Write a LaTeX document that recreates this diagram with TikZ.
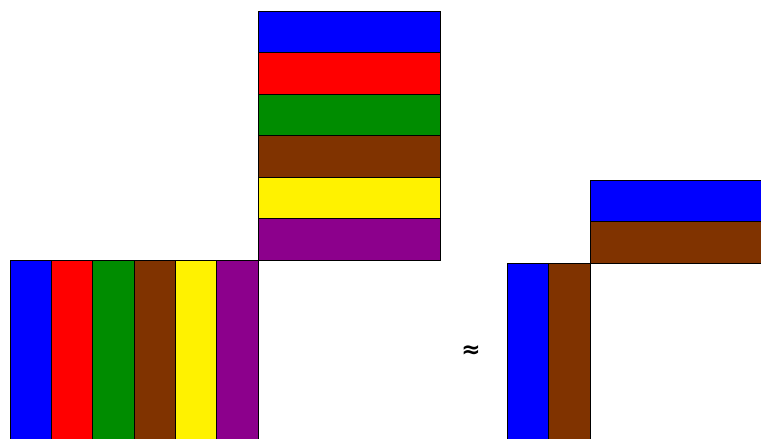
\documentclass[tikz,border=0pt]{standalone}
\usepackage{fontspec}
\newfontfamily\symfont{DejaVu Sans}
\newcommand{\approxfont}{\symfont\bfseries\fontsize{23}{25}\selectfont}
\usepackage{tikz}
\usetikzlibrary{positioning}
\definecolor{cgreen}{RGB}{0,140,0}
\definecolor{cbrown}{RGB}{128,51,0}
\definecolor{cpurple}{RGB}{140,0,140}

\begin{document}
\begin{tikzpicture}[x=1pt, y=-1pt, every node/.style={inner sep=0pt, outer sep=0pt}]
\tikzset{colstrip/.style={draw=black, line width=0.8pt, anchor=north west, minimum width=41.33pt, minimum height=200pt}}
\tikzset{rowstrip/.style={draw=black, line width=0.8pt, anchor=north west, minimum width=182pt, minimum height=41.5pt}}
\useasboundingbox (0,0) rectangle (761,439);
\clip (0,0) rectangle (761,439);
% left factor: columns
\foreach \c [count=\i from 0] in {blue,red,cgreen,cbrown,yellow,cpurple}
  \node[colstrip, fill=\c] (col\i) at (10+41.33*\i,260) {};
% top factor: rows
\foreach \c [count=\i from 0] in {blue,red,cgreen,cbrown,yellow,cpurple}
  \node[rowstrip, fill=\c] (row\i) at (258,11+41.5*\i) {};
\node[font=\approxfont] (approx) at (471,352) {≈};
% low rank approximation
\node[colstrip, fill=blue, minimum width=41.5pt] (lcol0) at (507,263) {};
\node[colstrip, fill=cbrown, minimum width=41.5pt, right=0pt of lcol0.north east, anchor=north west] (lcol1) {};
\node[rowstrip, fill=blue, minimum width=200pt] (lrow0) at (590,180) {};
\node[rowstrip, fill=cbrown, minimum width=200pt, below=0pt of lrow0.south west, anchor=north west] (lrow1) {};
\end{tikzpicture}
\end{document}
